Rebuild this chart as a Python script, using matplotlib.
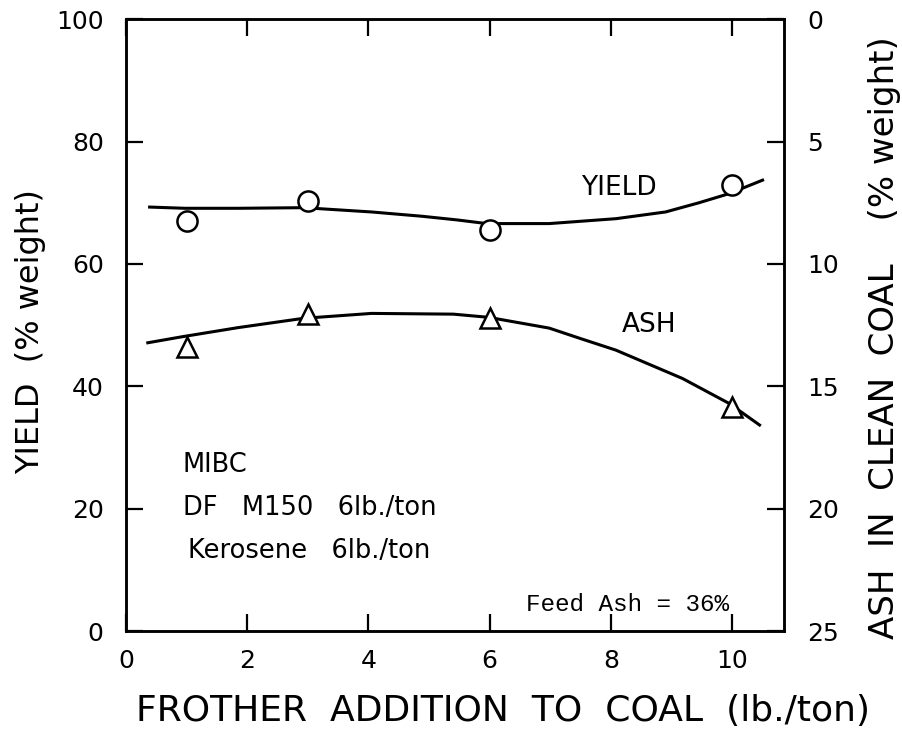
import numpy as np
import matplotlib
matplotlib.use("Agg")
import matplotlib.pyplot as plt

frother = [1, 3, 6, 10]
yield_pts = [67.0, 70.3, 65.5, 72.9]
ash_pts = [13.4, 12.05, 12.2, 15.85]

# hand-drawn trend curves
yield_curve_x = [0.39, 0.97, 1.85, 2.93, 4.05, 4.88, 5.46, 5.95, 6.98, 8.08, 8.9, 9.45, 9.95, 10.5]
yield_curve_y = [69.3, 69.1, 69.1, 69.2, 68.5, 67.8, 67.2, 66.6, 66.6, 67.4, 68.5, 70.0, 71.5, 73.7]
ash_curve_x = [0.36, 0.91, 1.85, 2.93, 4.05, 5.4, 5.98, 6.98, 7.5, 8.08, 9.18, 9.95, 10.45]
ash_curve_y = [13.22, 12.98, 12.6, 12.22, 12.02, 12.05, 12.18, 12.62, 13.05, 13.52, 14.68, 15.7, 16.58]

x_ticks = [0, 2, 4, 6, 8, 10]
yield_ticks = [0, 20, 40, 60, 80, 100]
ash_ticks = [0, 5, 10, 15, 20, 25]

plt.rcParams['font.family'] = ['DejaVu Sans']

fig = plt.figure(figsize=(9.03, 7.39), dpi=100)
ax = fig.add_axes([0.1395, 0.146, 0.7285, 0.828])
ax2 = ax.twinx()

ax.plot(yield_curve_x, yield_curve_y, color='black', lw=2.2)
ax.plot(frother, yield_pts, 'o', ms=14.5, mfc='white', mec='black', mew=1.8)
ax2.plot(ash_curve_x, ash_curve_y, color='black', lw=2.2)
ax2.plot(frother, ash_pts, '^', ms=15, mfc='white', mec='black', mew=1.8)

ax.set_xlim(0, 10.85)
ax.set_ylim(0, 100)
ax2.set_ylim(25, 0)
ax.set_xticks(x_ticks)
ax.set_yticks(yield_ticks)
ax2.set_yticks(ash_ticks)

ax.tick_params(axis='x', direction='in', length=12, width=1.6, labelsize=18, pad=13, top=True)
ax.tick_params(axis='y', direction='in', length=12, width=1.6, labelsize=18, pad=16, right=False)
ax2.tick_params(direction='in', length=12, width=1.6, labelsize=18, pad=17)
for a in (ax, ax2):
    for s in a.spines.values():
        s.set_linewidth(1.8)

ax.set_xlabel('FROTHER  ADDITION  TO  COAL  (lb./ton)', fontsize=26)
ax.xaxis.set_label_coords(0.573, -0.103)
ax.set_ylabel('YIELD  (% weight)', fontsize=23)
ax.yaxis.set_label_coords(-0.122, 0.49)
ax2.set_ylabel('ASH  IN  CLEAN  COAL    (% weight)', fontsize=24.5, rotation=90)
ax2.yaxis.set_label_coords(1.128, 0.48)

ax.text(8.13, 72.4, 'YIELD', fontsize=19, ha='center', va='center')
ax.text(8.63, 50.0, 'ASH', fontsize=19, ha='center', va='center')
ax.text(0.94, 27.1, 'MIBC', fontsize=18.5, ha='left', va='center')
ax.text(0.94, 20.1, 'DF   M150   6lb./ton', fontsize=18.5, ha='left', va='center')
ax.text(1.02, 13.1, 'Kerosene   6lb./ton', fontsize=18.5, ha='left', va='center')
ax.text(6.6, 4.4, 'Feed Ash = 36%', fontsize=17.5, family='Liberation Mono',
        ha='left', va='center')

fig.savefig('out.png', dpi=100)
